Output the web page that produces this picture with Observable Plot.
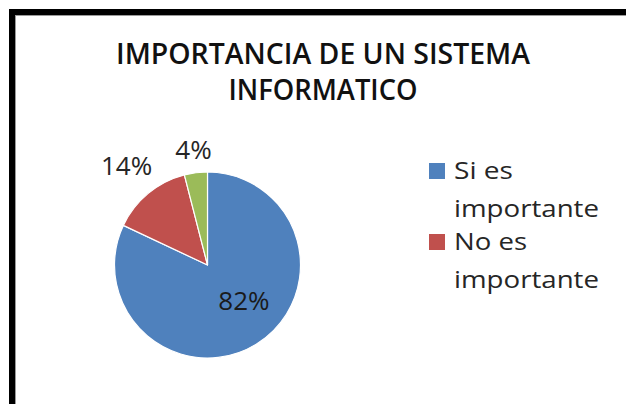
<!DOCTYPE html>
<html><head><meta charset="utf-8">
<script src="https://cdn.jsdelivr.net/npm/d3@7"></script>
<script src="https://cdn.jsdelivr.net/npm/@observablehq/plot@0.6"></script>
<style>
body{margin:0;background:#fff}
#chart{width:626px;height:404px;overflow:hidden}
</style>
</head><body><div id="chart"></div>
<script>
// ---- data ----
const titleLines = ["IMPORTANCIA DE UN SISTEMA", "INFORMATICO"];
const categories = ["Si es importante", "No es importante", "Otro"];
const values = [82, 14, 4];
const labels = ["82%", "14%", "4%"];
const legendLines = [["Si es", "importante"], ["No es", "importante"]];
const colors = ["#4F81BD", "#C0504D", "#9BBB59"];

// ---- layout / style ----
const W = 626, H = 404, cx = 207.5, cy = 265, R = 93;
const FONT = "'Open Sans', 'Noto Sans', sans-serif";
const labelSize = 26, labelCharW = 17, labelH = 17, labelGap = 12;

const arcs = d3.pie().sort(null).value(d => d.value)(
  categories.map((c, i) => ({category: c, value: values[i], label: labels[i], color: colors[i]}))
);

// label positions in the pie's unit coordinates
const labelData = arcs.map(a => {
  const t = (a.startAngle + a.endAngle) / 2;
  const share = a.data.value / d3.sum(values);
  let dist;
  if (share > 0.5) dist = 0.52 * R;
  else {
    const w = a.data.label.length * labelCharW;
    dist = R + labelGap + Math.abs(Math.sin(t)) * w / 2 + Math.abs(Math.cos(t)) * labelH / 2;
  }
  return {x: dist / R * Math.sin(t), y: dist / R * Math.cos(t), label: a.data.label, inside: share > 0.5};
});

function frame() {
  const g = d3.create("svg:g");
  g.append("rect").attr("x", 9).attr("y", 9).attr("width", W).attr("height", 6).attr("fill", "#000");
  g.append("rect").attr("x", 9).attr("y", 9).attr("width", 6).attr("height", H).attr("fill", "#000");
  g.append("rect").attr("x", 15).attr("y", 15).attr("width", W).attr("height", 1).attr("fill", "#9a9a9a");
  g.append("rect").attr("x", 15).attr("y", 15).attr("width", 1).attr("height", H).attr("fill", "#9a9a9a");
  // title
  const tl = [{y: 64, len: 414}, {y: 100, len: 189}];
  titleLines.forEach((s, i) => {
    g.append("text").attr("x", 323).attr("y", tl[i].y).attr("text-anchor", "middle")
      .attr("font-family", FONT).attr("font-weight", 600).attr("font-size", 28)
      .attr("fill", "#111").attr("textLength", tl[i].len).attr("lengthAdjust", "spacingAndGlyphs")
      .text(s);
  });
  // legend
  const lens = {"Si es": 59, "No es": 73, "importante": 145};
  legendLines.forEach((lines, i) => {
    const y0 = 163 + i * 71;
    g.append("rect").attr("x", 429).attr("y", y0).attr("width", 16).attr("height", 16).attr("fill", colors[i]);
    lines.forEach((s, j) => {
      g.append("text").attr("x", 454).attr("y", y0 + 16 + j * 38).attr("text-anchor", "start")
        .attr("font-family", FONT).attr("font-size", 24).attr("fill", "#262626")
        .attr("textLength", lens[s]).attr("lengthAdjust", "spacingAndGlyphs").text(s);
    });
  });
  return g.node();
}

function slices(index, scales) {
  const x0 = scales.x(0), y0 = scales.y(0), r = scales.x(1) - scales.x(0);
  const arc = d3.arc().innerRadius(0).outerRadius(r);
  const g = d3.create("svg:g").attr("transform", `translate(${x0},${y0})`);
  g.selectAll("path").data(arcs).join("path")
    .attr("d", arc).attr("fill", d => d.data.color)
    .attr("stroke", "#fff").attr("stroke-width", 1.2).attr("stroke-linejoin", "round");
  return g.node();
}

const chart = Plot.plot({
  width: W, height: H, margin: 0,
  style: {fontFamily: FONT, background: "transparent"},
  x: {domain: [-1, 1], range: [cx - R, cx + R], axis: null},
  y: {domain: [-1, 1], range: [cy + R, cy - R], axis: null},
  marks: [
    frame,
    slices,
    Plot.text(labelData.filter(d => !d.inside), {x: "x", y: "y", text: "label", fontSize: labelSize, fill: "#262626"}),
    Plot.text(labelData.filter(d => d.inside), {x: "x", y: "y", text: "label", fontSize: labelSize, fill: "#1a1a1a", dx: 10, dy: -5})
  ]
});
document.getElementById("chart").append(chart);
</script>
</body></html>
